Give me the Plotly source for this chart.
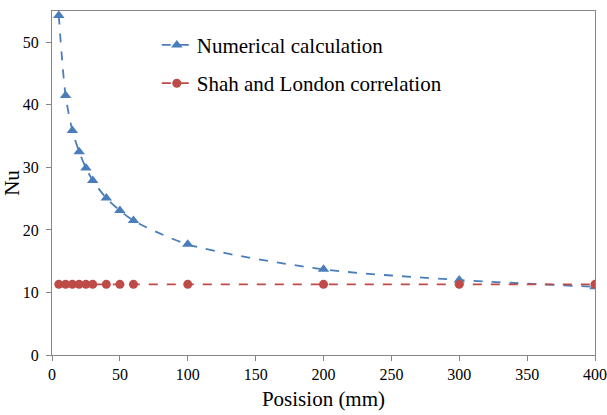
import plotly.graph_objects as go

positions = [5, 10, 15, 20, 25, 30, 40, 50, 60, 100, 200, 300, 400]
numerical = [54.3, 41.5, 35.9, 32.5, 29.9, 27.9, 25.1, 23.1, 21.5, 17.7, 13.7, 12.0, 10.9]
shah_london = [11.3, 11.3, 11.3, 11.3, 11.3, 11.3, 11.3, 11.3, 11.3, 11.3, 11.3, 11.3, 11.3]

blue = "#4A7EBB"
red = "#BE4B48"
font = "Liberation Serif"

fig = go.Figure()
fig.add_trace(go.Scatter(
    x=positions, y=numerical, name="Numerical calculation",
    mode="lines+markers", legendgroup="a",
    line=dict(color=blue, width=1.8, dash="dash", shape="spline", smoothing=0.8),
    marker=dict(symbol="triangle-up", size=10, color=blue),
))
fig.add_trace(go.Scatter(
    x=positions, y=shah_london, name="Shah and London correlation",
    mode="lines+markers", legendgroup="b",
    line=dict(color=red, width=1.8, dash="dash"),
    marker=dict(symbol="circle", size=9, color=red),
))

axis_common = dict(showgrid=False, zeroline=False, showline=True, linecolor="#868686",
                   linewidth=1, mirror=True, ticks="outside", ticklen=5,
                   tickcolor="#868686", automargin=False,
                   tickfont=dict(family=font, size=16, color="black"))

fig.update_layout(
    width=607, height=415,
    margin=dict(l=52, r=12, t=11, b=60),
    paper_bgcolor="white", plot_bgcolor="white",
    font=dict(family=font, size=16, color="black"),
    showlegend=True,
    legend=dict(x=0.193, y=0.96, xanchor="left", yanchor="top",
                bgcolor="rgba(0,0,0,0)", font=dict(size=21, family=font, color="black"),
                tracegroupgap=8, itemwidth=30),
    xaxis=dict(range=[0, 400], tickvals=[0, 50, 100, 150, 200, 250, 300, 350, 400],
               title=dict(text="Posision (mm)", font=dict(size=21, family=font), standoff=9),
               **axis_common),
    yaxis=dict(range=[0, 55], tickvals=[0, 10, 20, 30, 40, 50], ticklabelstandoff=4,
               title=dict(text="Nu", font=dict(size=21, family=font), standoff=6),
               **axis_common),
)

fig.write_html("out.html")
